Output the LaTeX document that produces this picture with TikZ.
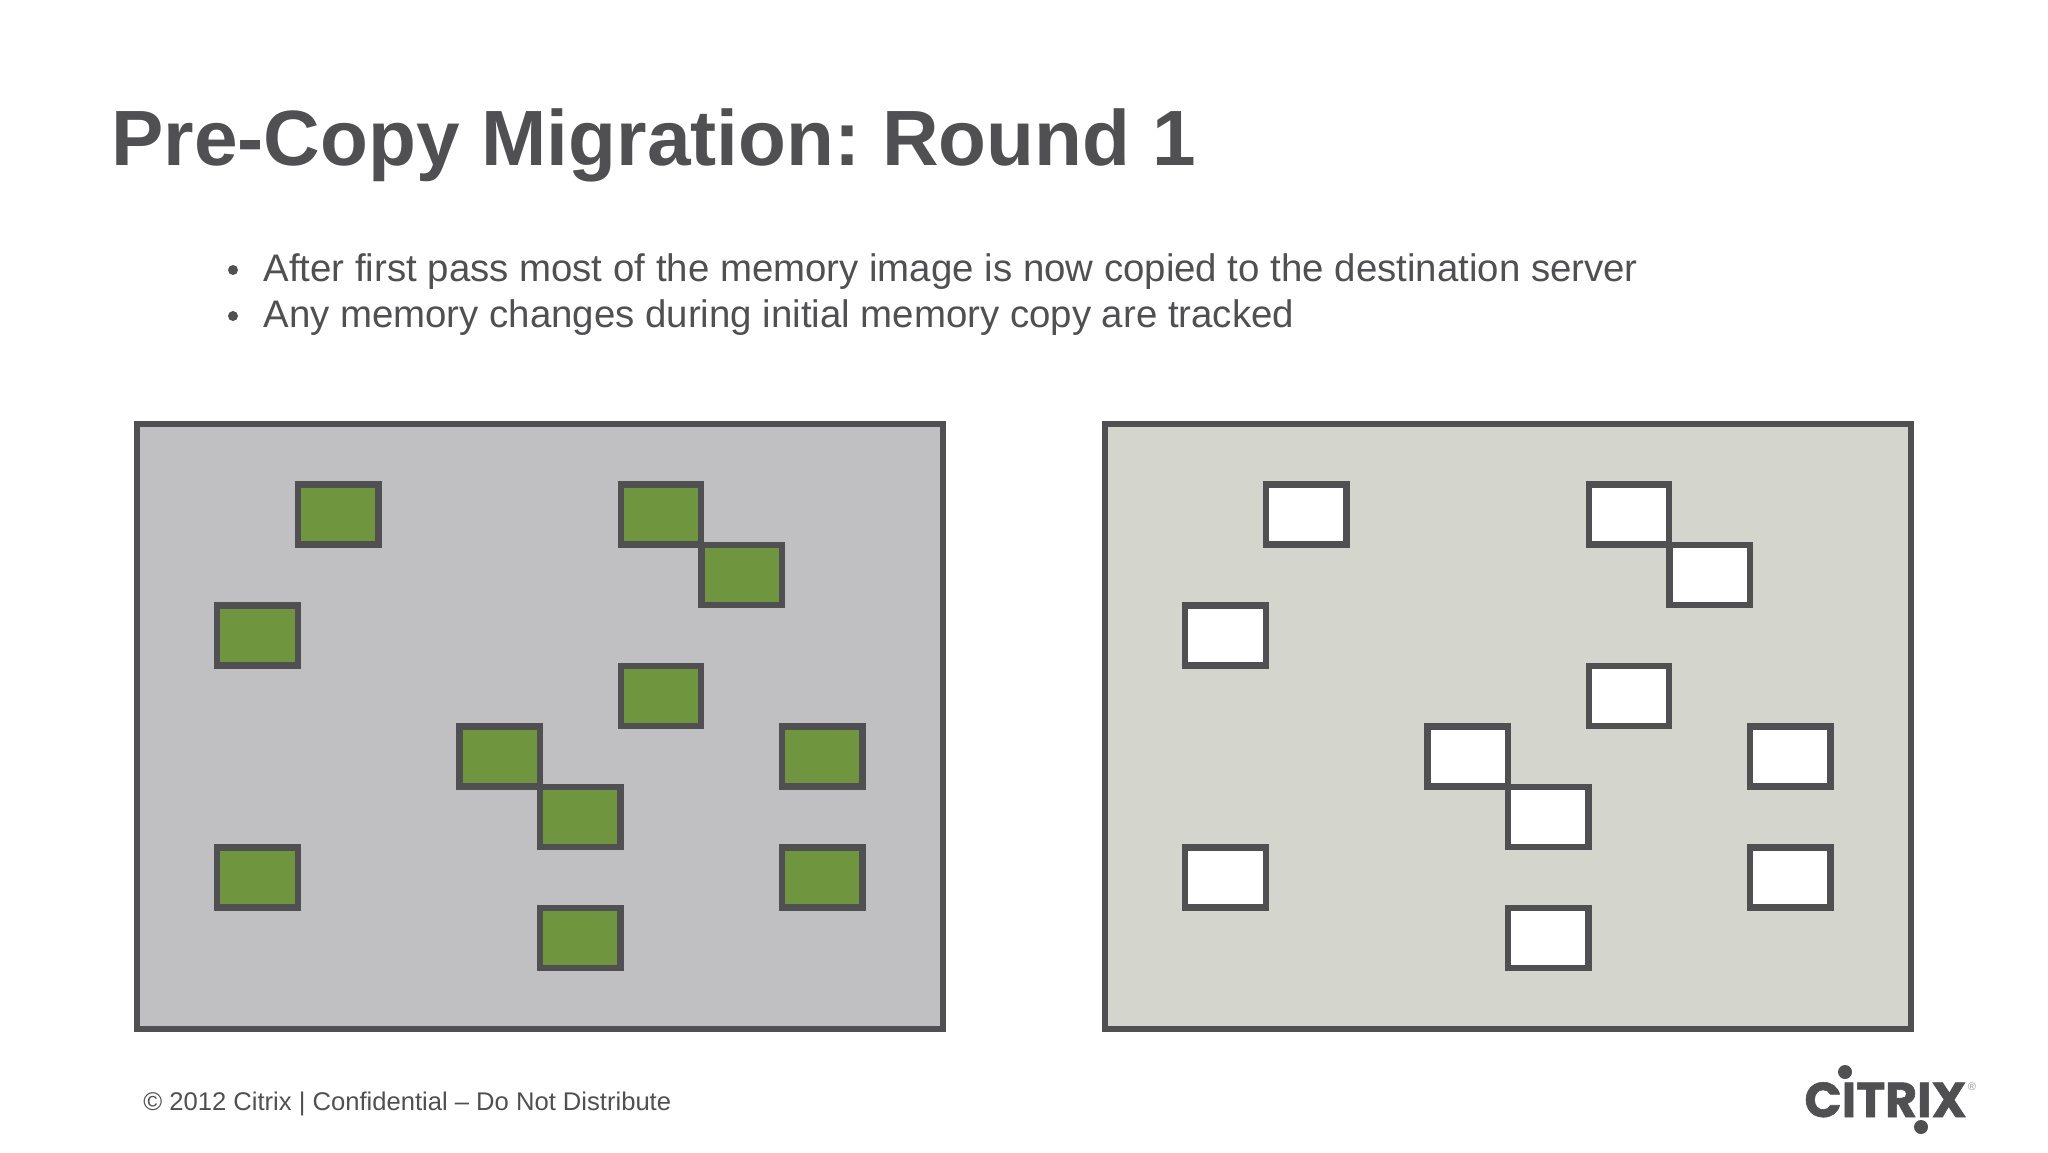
\documentclass[tikz,border=0pt]{standalone}
\usepackage{fontspec}
\setmainfont{Liberation Sans}
\newfontfamily\logofont[BoldFeatures={FakeBold=1.2}]{Poppins}
\definecolor{slategray}{HTML}{505052}
\definecolor{leftgray}{HTML}{C0BFC1}
\definecolor{rightgray}{HTML}{D4D5CD}
\definecolor{pagegreen}{HTML}{6F953E}
\tikzset{
 panel/.style={draw=slategray,line width=3.2pt,minimum width=403pt,minimum height=302.5pt,inner sep=0pt},
 page/.style={draw=slategray,line width=3.2pt,minimum width=40.25pt,minimum height=30pt,inner sep=0pt},
 bullet/.style={circle,fill=slategray,inner sep=0pt,minimum size=5pt},
 txt/.style={anchor=base west,inner sep=0pt,text=slategray}
}
\begin{document}
\frenchspacing
\begin{tikzpicture}[x=0.5pt,y=-0.5pt]
 \useasboundingbox (0,0) rectangle (2048,1152);
 \node[txt,font=\bfseries\fontsize{39.2pt}{44pt}\selectfont] (title) at (111,165) {Pre-Copy Migration: Round 1};
 \node[bullet] (dota) at (233,270) {};
 \node[bullet] (dotb) at (233,316) {};
 \node[txt,font=\fontsize{19.2pt}{22pt}\selectfont] (linea) at (263,281) {After first pass most of the memory image is now copied to the destination server};
 \node[txt,font=\fontsize{19.2pt}{22pt}\selectfont] (lineb) at (263,327) {Any memory changes during initial memory copy are tracked};
 % source server
 \node[panel,fill=leftgray] (src) at (540,726.5) {};
 \node[page,fill=pagegreen] (sa) at (338.2,514.5) {};
 \node[page,fill=pagegreen] (sb) at (661,514.5) {};
 \node[page,fill=pagegreen] (sc) at (741.7,575) {};
 \node[page,fill=pagegreen] (sd) at (257.5,635.5) {};
 \node[page,fill=pagegreen] (se) at (661,696) {};
 \node[page,fill=pagegreen] (sf) at (499.6,756.5) {};
 \node[page,fill=pagegreen] (sg) at (822.4,756.5) {};
 \node[page,fill=pagegreen] (sh) at (580.3,817) {};
 \node[page,fill=pagegreen] (si) at (257.5,877.5) {};
 \node[page,fill=pagegreen] (sj) at (822.4,877.5) {};
 \node[page,fill=pagegreen] (sk) at (580.3,938) {};
 % destination server
 \node[panel,fill=rightgray] (dst) at (1508,726.5) {};
 \node[page,fill=white] (da) at (1306.2,514.5) {};
 \node[page,fill=white] (db) at (1629,514.5) {};
 \node[page,fill=white] (dc) at (1709.7,575) {};
 \node[page,fill=white] (dd) at (1225.5,635.5) {};
 \node[page,fill=white] (de) at (1629,696) {};
 \node[page,fill=white] (df) at (1467.6,756.5) {};
 \node[page,fill=white] (dg) at (1790.4,756.5) {};
 \node[page,fill=white] (dh) at (1548.3,817) {};
 \node[page,fill=white] (di) at (1225.5,877.5) {};
 \node[page,fill=white] (dj) at (1790.4,877.5) {};
 \node[page,fill=white] (dk) at (1548.3,938) {};
 % footer and logo
 \node[txt,font=\fontsize{12.8pt}{15pt}\selectfont] (foot) at (143,1110) {© 2012 Citrix | Confidential – Do Not Distribute};
 \node[txt,font=\logofont\bfseries\fontsize{24.5pt}{30pt}\selectfont] (logo) at (1804,1117) {CITRIX};
 \node[circle,fill=slategray,inner sep=0pt,minimum size=7pt] (dotc) at (1845,1072) {};
 \node[circle,fill=slategray,inner sep=0pt,minimum size=7pt] (dotd) at (1921,1127) {};
 \node[inner sep=0pt,text=slategray!60,font=\fontsize{5.5pt}{6pt}\selectfont] (reg) at (1972,1087) {®};
\end{tikzpicture}
\end{document}
